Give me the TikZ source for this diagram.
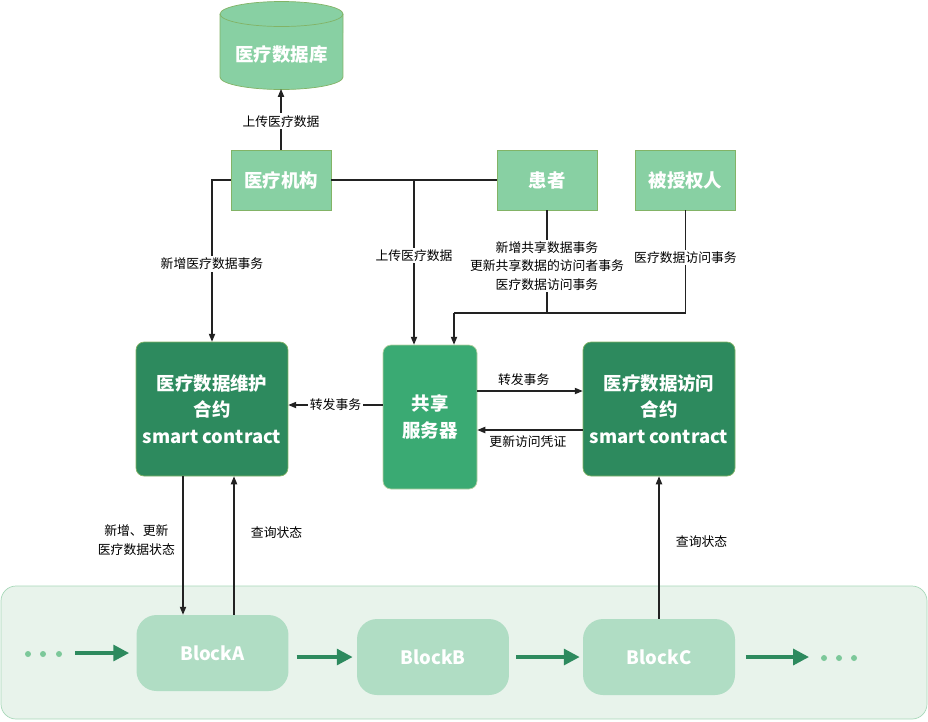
\documentclass[tikz,border=0pt]{standalone}
\usepackage{fontspec}
\setmainfont{Noto Sans CJK SC}
\usetikzlibrary{arrows.meta,calc}

\definecolor{boxline}{HTML}{82B366}
\definecolor{lightg}{HTML}{88D0A3}
\definecolor{darkg}{HTML}{2D8A5E}
\definecolor{srvg}{HTML}{3AAA73}
\definecolor{chainbg}{HTML}{E8F3EB}
\definecolor{chainline}{HTML}{A8D8B9}
\definecolor{blockg}{HTML}{B0DDC4}
\definecolor{dotg}{HTML}{7CC89A}
\definecolor{ink}{HTML}{222222}

\tikzset{
	topbox/.style={draw=boxline, fill=lightg, text=white, inner sep=0pt,
		font=\bfseries\fontsize{10.5}{12}\selectfont,
		minimum width=2cm, minimum height=1.2cm},
	contract/.style={draw=boxline, fill=darkg, text=white, rounded corners=0.16cm,
		align=center, inner sep=0pt, font=\bfseries\fontsize{10.5}{15}\selectfont,
		minimum width=3.04cm, minimum height=2.68cm},
	server/.style={draw=boxline!60!white, fill=srvg, text=white, rounded corners=0.16cm,
		align=center, inner sep=0pt, font=\bfseries\fontsize{10.5}{15}\selectfont,
		minimum width=1.88cm, minimum height=2.88cm},
	block/.style={fill=blockg, text=white, rounded corners=0.4cm, inner sep=0pt,
		font=\bfseries\fontsize{10.5}{12}\selectfont,
		minimum width=3.04cm, minimum height=1.52cm},
	lbl/.style={fill=white, inner sep=1pt, align=center,
		font=\fontsize{7.3}{10.5}\selectfont},
	conn/.style={draw=ink, line width=0.6pt, -{Triangle[length=4.5pt,width=3.6pt]}},
	wire/.style={draw=ink, line width=0.6pt},
	chainarr/.style={draw=darkg, line width=2pt, -{Triangle[length=9pt,width=9pt]}}
}

\begin{document}
\begin{tikzpicture}[x=0.02cm, y=-0.02cm]
	%%%%% START %%%%%
	\useasboundingbox (0,0) rectangle (928,721);

	% database cylinder
	\draw[boxline, fill=lightg] (220,14) -- (220,77)
		arc[start angle=180, end angle=360, x radius=1.23cm, y radius=0.25cm]
		-- (343,14)
		arc[start angle=0, end angle=180, x radius=1.23cm, y radius=0.25cm] -- cycle;
	\draw[boxline] (220,14) arc[start angle=180, end angle=360, x radius=1.23cm, y radius=0.25cm];
	\node[text=white, font=\bfseries\fontsize{10.5}{12}\selectfont] (db) at (281.5,54) {医疗数据库};
	\coordinate (dbbot) at (281,89);

	% parties
	\node[topbox] (org) at (281,180) {医疗机构};
	\node[topbox] (patient) at (547,180) {患者};
	\node[topbox] (auth) at (685.5,180) {被授权人};

	% contracts and server
	\node[contract] (maint) at (212,409) {医疗数据维护\\合约\\smart contract};
	\node[server] (srv) at (430,417) {共享\\服务器};
	\node[contract] (access) at (659,409) {医疗数据访问\\合约\\smart contract};

	% chain
	\draw[chainline, fill=chainbg, rounded corners=0.3cm] (1,586) rectangle (927,719);
	\node[block] (blkA) at (212.5,653) {BlockA};
	\node[block] (blkB) at (433,657) {BlockB};
	\node[block] (blkC) at (659,657) {BlockC};

	\foreach \x in {28,43,59} \fill[dotg] (\x,654) circle (0.06cm);
	\foreach \x in {824,839,854} \fill[dotg] (\x,658) circle (0.06cm);
	\coordinate (chainin) at (75,653);
	\coordinate (chainout) at (809,657);

	\draw[chainarr, shorten >=4pt] (chainin) -- (blkA.west);
	\draw[chainarr, shorten <=4.5pt, shorten >=2.3pt] (blkA.east |- blkB.west) -- (blkB.west);
	\draw[chainarr, shorten <=4pt, shorten >=1.7pt] (blkB.east) -- (blkC.west);
	\draw[chainarr, shorten <=6pt] (blkC.east) -- (chainout);

	% connectors
	\draw[conn] (org) -- (dbbot) node[lbl, pos=0.47] {上传医疗数据};
	\draw[conn] (org.west) -| (maint.north) node[lbl, pos=0.76] {新增医疗数据事务};
	\draw[wire] (org.east) -- (patient.west);

	\coordinate (j1) at (414,180);
	\draw[conn] (j1) -- (j1 |- srv.north) node[lbl, pos=0.46] {上传医疗数据};

	\coordinate (j2) at (547,313);
	\coordinate (j3) at (454,313);
	\draw[wire] (patient.south) -- (j2)
		node[lbl, pos=0.54] {新增共享数据事务\\更新共享数据的访问者事务\\医疗数据访问事务};
	\draw[wire] (auth.south) |- (j3) node[lbl, pos=0.23] {医疗数据访问事务};
	\draw[conn] (j3) -- (j3 |- srv.north);

	\draw[conn] (srv.west |- 0,405) -- (maint.east |- 0,405) node[lbl, midway] {转发事务};
	\draw[conn] (srv.east |- 0,391) -- (access.west |- 0,391)
		node[lbl, pos=0.44, above=2pt] {转发事务};
	\draw[conn] (access.west |- 0,430) -- (srv.east |- 0,430)
		node[lbl, pos=0.52, below=2pt] {更新访问凭证};

	\draw[conn] (maint.south -| 183,0) -- (blkA.north -| 183,0)
		node[pos=0.46, left=1pt, align=center, font=\fontsize{7.3}{10.5}\selectfont] {新增、更新\\医疗数据状态};
	\draw[conn] (blkA.north -| 234,0) -- (maint.south -| 234,0)
		node[pos=0.59, right=6pt, font=\fontsize{7.3}{10.5}\selectfont] {查询状态};
	\draw[conn] (blkC.north) -- (access.south)
		node[pos=0.54, right=6pt, font=\fontsize{7.3}{10.5}\selectfont] {查询状态};
	%%%%% END %%%%%
\end{tikzpicture}
\end{document}
